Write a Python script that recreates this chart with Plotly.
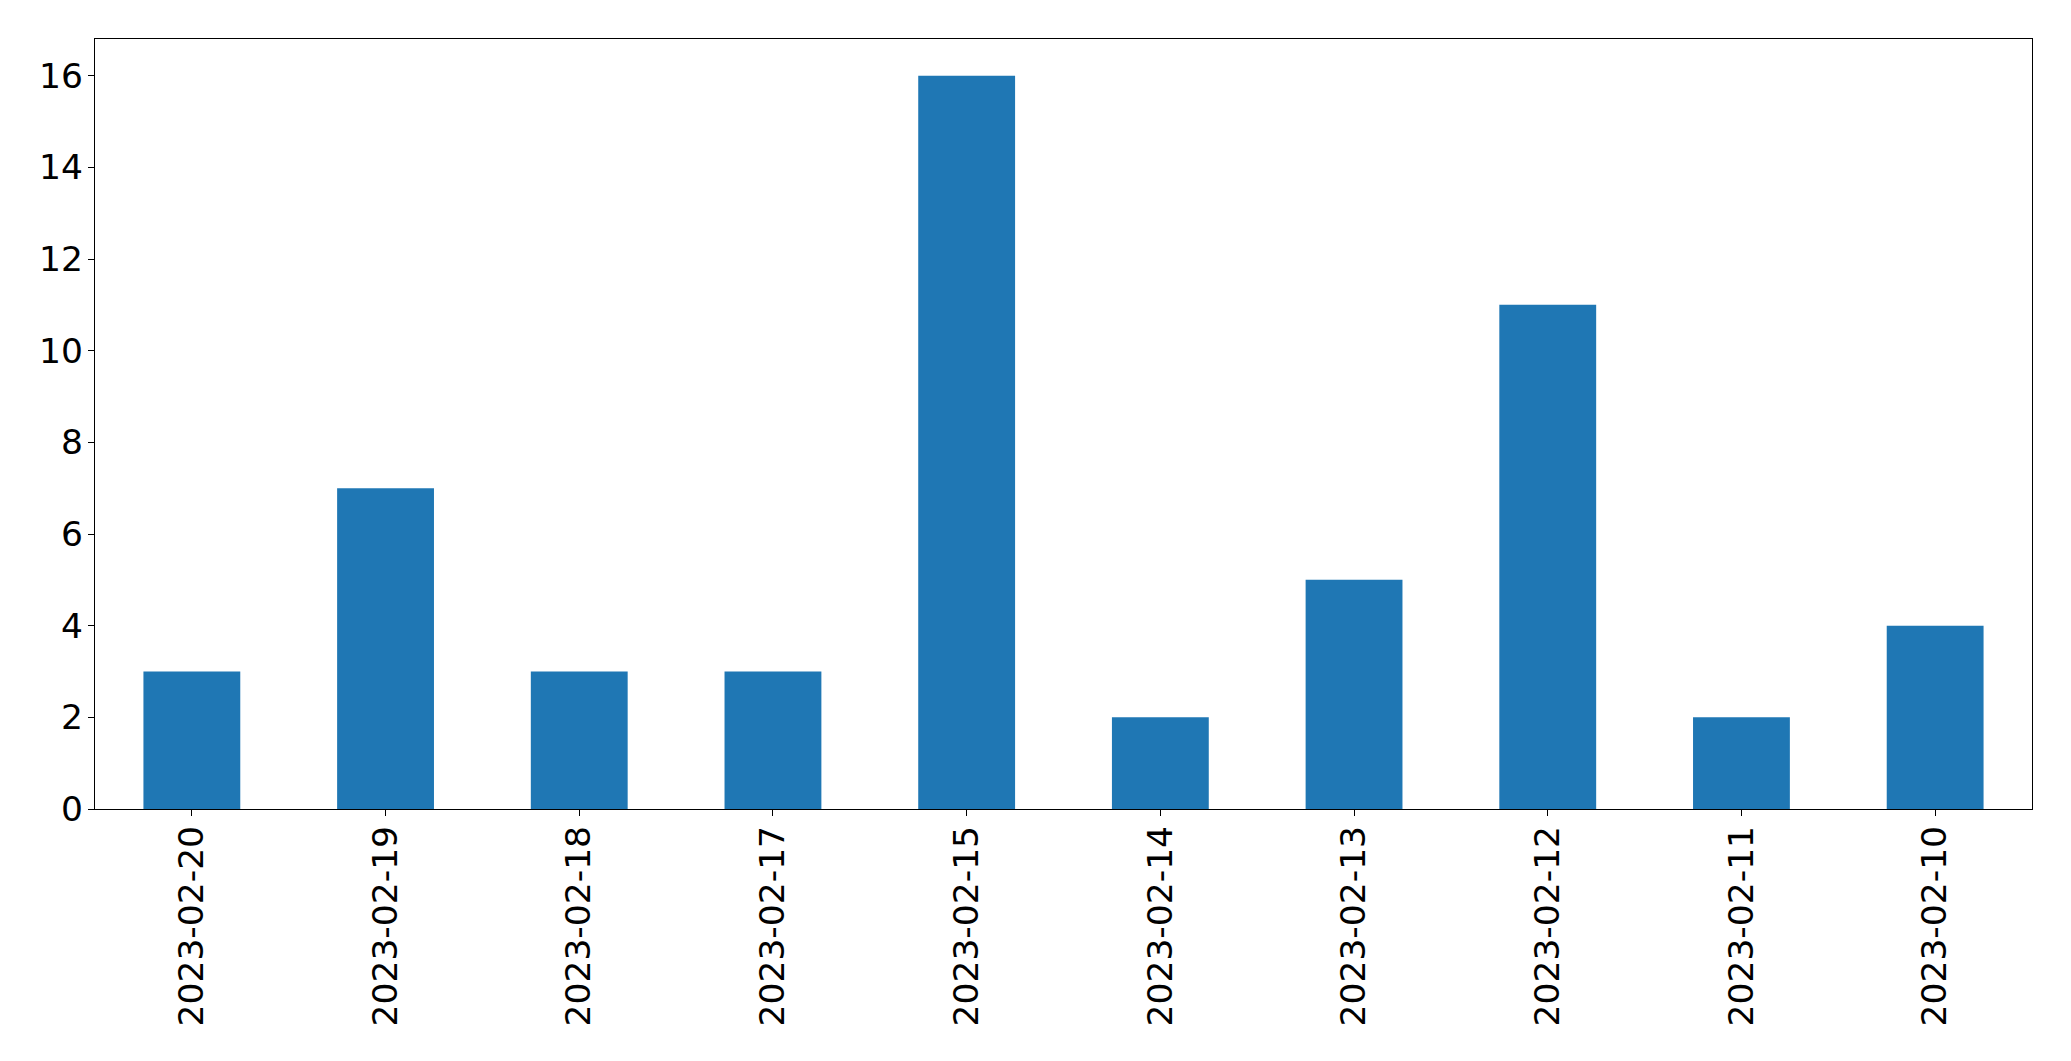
import plotly.graph_objects as go

dates = ["2023-02-20", "2023-02-19", "2023-02-18", "2023-02-17", "2023-02-15",
         "2023-02-14", "2023-02-13", "2023-02-12", "2023-02-11", "2023-02-10"]
counts = [3, 7, 3, 3, 16, 2, 5, 11, 2, 4]
y_ticks = [0, 2, 4, 6, 8, 10, 12, 14, 16]

fig = go.Figure()
fig.add_trace(go.Bar(
    x=list(range(len(dates))), y=counts, width=0.5,
    marker=dict(color="#1f77b4", line=dict(width=0)),
))

fig.update_layout(
    width=2071, height=1061,
    margin=dict(l=95, r=39, t=39, b=252),
    paper_bgcolor="white", plot_bgcolor="white",
    font=dict(family="DejaVu Sans", size=34.5, color="black"),
    showlegend=False,
    xaxis=dict(
        range=[-0.5, 9.5], tickmode="array",
        tickvals=list(range(len(dates))), ticktext=dates,
        tickangle=-90, ticks="outside", ticklen=6, tickwidth=1.3, tickcolor="black",
        showline=True, linecolor="black", linewidth=1.3, mirror=True,
        showgrid=False, zeroline=False, ticklabelstandoff=-4,
    ),
    yaxis=dict(
        range=[0, 16.8], tickmode="array", tickvals=y_ticks,
        ticks="outside", ticklen=6, tickwidth=1.3, tickcolor="black",
        showline=True, linecolor="black", linewidth=1.3, mirror=True,
        showgrid=False, zeroline=False, ticklabelstandoff=-2,
    ),
)

fig.write_html(
    "out.html",
    config={"displayModeBar": False},
    post_script="document.body.style.margin='0';document.body.style.overflow='hidden';",
)
